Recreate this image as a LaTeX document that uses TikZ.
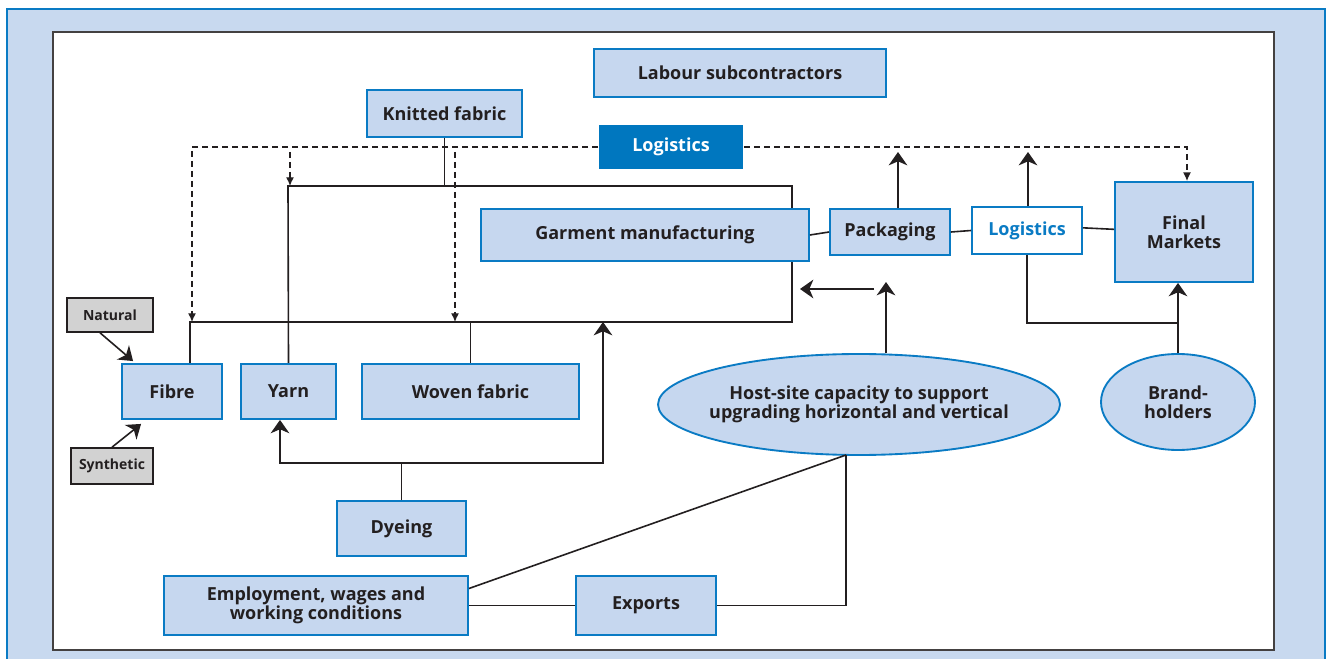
\documentclass[tikz,border=0pt]{standalone}
\usepackage{fontspec}
\setmainfont{Open Sans}
\usetikzlibrary{arrows.meta,shapes.geometric,backgrounds}
\definecolor{panelblue}{HTML}{C8D9EF}
\definecolor{boxblue}{HTML}{C6D7EF}
\definecolor{edgeblue}{HTML}{0A7BC4}
\definecolor{darkblue}{HTML}{0077BF}
\definecolor{boxgray}{HTML}{D2D2D2}
\definecolor{ink}{HTML}{231F20}
\begin{document}
\begin{tikzpicture}[x=0.75pt,y=-0.75pt,
		wh/.style 2 args={minimum width=#1*0.75pt,minimum height=#2*0.75pt},
		stage/.style={draw=edgeblue,fill=boxblue,line width=1.4pt,inner sep=0pt,align=center,
			text=ink,font=\bfseries\fontsize{13.5}{14.5}\selectfont},
		source/.style={draw=ink,fill=boxgray,line width=1.2pt,inner sep=0pt,
			text=ink,font=\bfseries\fontsize{10.5}{12}\selectfont},
		oval/.style={stage,ellipse,inner xsep=-6pt},
		link/.style={draw=ink,line width=1.2pt},
		arr/.style={link,-{Stealth[length=10pt,width=14pt,inset=3pt]}},
		ship/.style={draw=ink,line width=1pt,dash pattern=on 4.5pt off 3pt,
			-{Latex[length=6.5pt,width=6pt]}}]
		\useasboundingbox (0,0) rectangle (1329,659);
		\node[stage,wh={292}{48}] (lab) at (740,73) {Labour subcontractors};
		\node[stage,wh={155}{47}] (knit) at (444.5,113.5) {Knitted fabric};
		\node[stage,wh={144}{44},fill=darkblue,draw=none,text=white] (logi) at (671,147) {Logistics};
		\node[stage,wh={328}{52}] (garm) at (645,235) {Garment manufacturing};
		\node[stage,wh={120}{46}] (pack) at (890,232) {Packaging};
		\node[stage,wh={110}{47},fill=white,text=edgeblue] (logw) at (1027,230.5) {Logistics};
		\node[stage,wh={138}{100}] (fin) at (1184,232) {Final\\Markets};
		\node[source,wh={86}{34}] (nat) at (110,315) {Natural};
		\node[stage,wh={100}{55}] (fib) at (172,391.5) {Fibre};
		\node[stage,wh={95}{55}] (yarn) at (288.5,391.5) {Yarn};
		\node[stage,wh={217}{55}] (wov) at (470.5,391.5) {Woven fabric};
		\node[source,wh={82}{36}] (syn) at (112,466) {Synthetic};
		\node[stage,wh={129}{55}] (dye) at (401.5,528.5) {Dyeing};
		\node[stage,wh={304}{59}] (emp) at (316,605.5) {Employment, wages and\\working conditions};
		\node[stage,wh={140}{59}] (exp) at (646,605.5) {Exports};
		\node[oval,wh={402}{101}] (host) at (859,404.5) {Host-site capacity to support\\upgrading horizontal and vertical};
		\node[oval,wh={154}{96}] (brand) at (1178,402) {Brand-\\holders};
		\coordinate (topL) at (288,186);
		\coordinate (topR) at (792,186);
		\coordinate (botR) at (792,322);
		\coordinate (botL) at (190,322);
		\coordinate (dyL) at (280,463);
		\coordinate (dyR) at (603,463);
		\coordinate (pu) at (898,152);
		\coordinate (lu) at (1028,152);
		\coordinate (lb) at (1026,323);
		\coordinate (hup) at (886,282);
		\coordinate (hr) at (874,289);
		\coordinate (hl) at (800,289);
		\coordinate (hb) at (846,455);
		\begin{scope}[on background layer]
		\draw[draw=edgeblue,fill=panelblue,line width=0.8pt] (7,9) rectangle (1325,680);
		\draw[draw=ink!85,fill=white,line width=0.8pt] (53,32) rectangle (1274,650);
		\draw[link] (yarn.north) -- (topL) -- (topR) -- (botR) -- (botL) -- (botL |- fib.north);
		\draw[link] (knit.south) -- (knit.south |- topL);
		\draw[link] (wov.north) -- (wov.north |- botL);
		\end{scope}
		\draw[ship] (logi.west) -| (192,322);
		\draw[ship] (290,152) -- (290,186);
		\draw[ship] (455,152) -- (455,322);
		\draw[ship] (logi.east) -| (fin.north -| 1187,0);
		\draw[arr] (dye.north) |- (dyL) -- (dyL |- yarn.south);
		\draw[arr] (dye.north |- dyL) -- (dyR) -- (dyR |- botL);
		\draw[link] (garm.east) -- (pack.west);
		\draw[link] (pack.east) -- (logw.west);
		\draw[link] ([yshift=2pt]logw.east) -- ([yshift=2pt]fin.west);
		\draw[arr] (pu |- pack.north) -- (pu);
		\draw[arr] (lu |- logw.north) -- (lu);
		\draw[link] (logw.south) |- (brand.north |- lb);
		\draw[arr] (brand.north) -- (brand.north |- fin.south);
		\draw[arr] (hup |- host.north) -- (hup);
		\draw[arr] (hr) -- (hl);
		\draw[link] (hb) -- ([yshift=12.75pt]emp.east);
		\draw[link] (hb) |- (exp.east);
		\draw[link] (emp.east) -- (exp.west);
		\draw[arr] ([xshift=-7.5pt]nat.south) -- ([xshift=9pt,yshift=1.5pt]fib.north west);
		\draw[arr] (syn.north) -- ([xshift=15pt,yshift=-3pt]fib.south west);
\end{tikzpicture}
\end{document}
